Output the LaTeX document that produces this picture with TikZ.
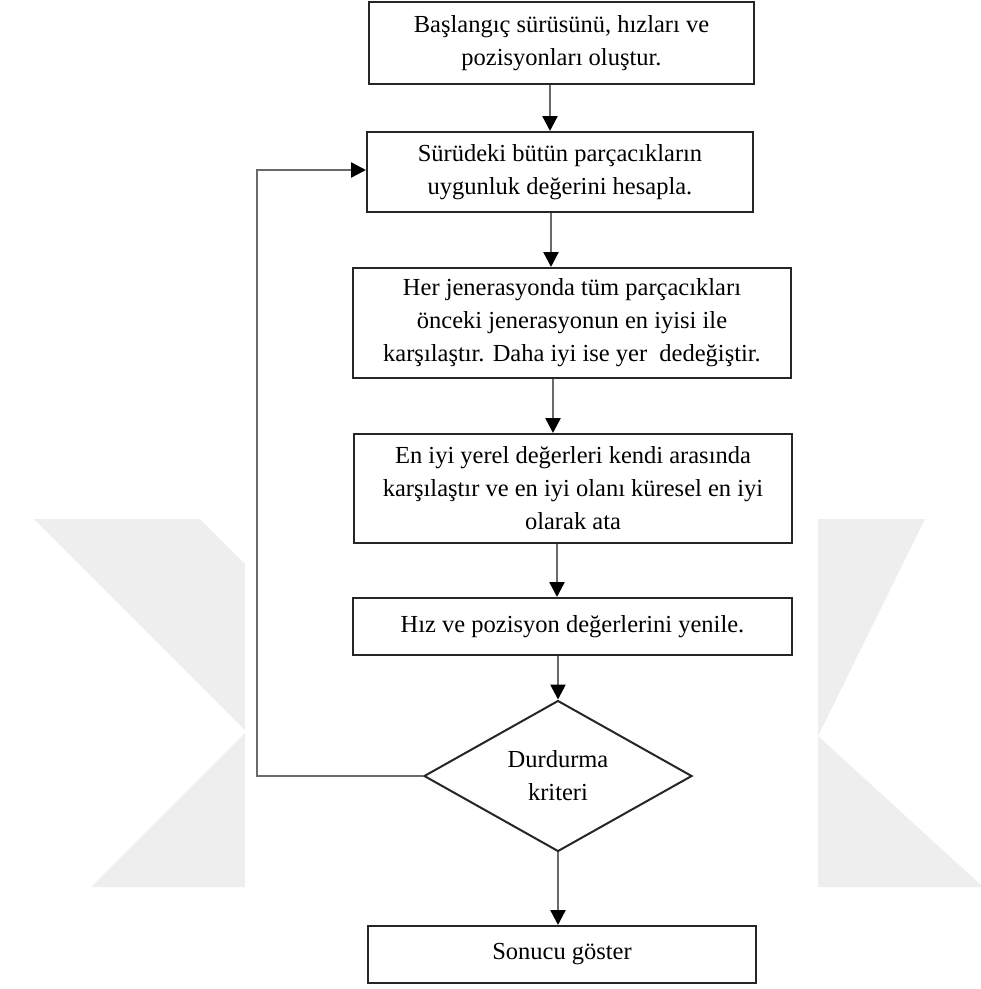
\documentclass[tikz,border=0pt]{standalone}
\usepackage{fontspec}
\setmainfont{Liberation Serif}
\usetikzlibrary{arrows.meta,shapes.geometric}
\definecolor{wm}{HTML}{EEEEEE}
\definecolor{conn}{HTML}{6A6A6A}
\tikzset{
  stepbox/.style={draw=black!85, line width=2pt, align=center, inner sep=0pt,
    font=\fontsize{24.5}{33}\selectfont},
  decision/.style={diamond, draw=black!85, line width=2pt, align=center, inner sep=0pt,
    font=\fontsize{24.5}{33}\selectfont},
  arr/.style={draw=conn, line width=2.4pt, -{Triangle[width=15pt,length=15pt,fill=black,color=black]}},
}
\begin{document}
\begin{tikzpicture}[x=1pt,y=-1pt]
\useasboundingbox (0,0) rectangle (981,989);
\fill[white] (0,0) rectangle (981,989);
% watermark
\fill[wm] (34,519) -- (246.5,731.5) -- (91,887) -- (257,887) -- (412.5,731.5) -- (200,519) -- cycle;
\fill[wm] (760,519) -- (925,519) -- (818,736) -- (983,887) -- (760,887) -- cycle;
\fill[white] (245,0) rectangle (818,989);
% nodes
\node[stepbox, minimum width=385, minimum height=82] (b1) at (561.5,43)
  {Başlangıç sürüsünü, hızları ve\\pozisyonları oluştur.};
\node[stepbox, minimum width=386, minimum height=80] (b2) at (560,172)
  {Sürüdeki bütün parçacıkların\\uygunluk değerini hesapla.};
\node[stepbox, minimum width=438, minimum height=110] (b3) at (572,323)
  {Her jenerasyonda tüm parçacıkları\\önceki jenerasyonun en iyisi ile\\karşılaştır. Daha iyi ise yer\ \ dedeğiştir.};
\node[stepbox, minimum width=438, minimum height=109] (b4) at (573,488.5)
  {En iyi yerel değerleri kendi arasında\\karşılaştır ve en iyi olanı küresel en iyi\\olarak ata};
\node[stepbox, minimum width=439, minimum height=57] (b5) at (572.5,626.5)
  {Hız ve pozisyon değerlerini yenile.};
\node[decision, minimum width=268, minimum height=137] (d) at (558,776)
  {Durdurma\\kriteri};
\node[stepbox, minimum width=388, minimum height=57] (b6) at (562,954.5)
  {Sonucu göster};
% connector columns
\coordinate (x1) at (550,0);
\coordinate (x2) at (551,0);
\coordinate (x3) at (553,0);
\coordinate (x4) at (557,0);
\coordinate (x6) at (559,0);
\coordinate (lb) at (257,776);
\coordinate (lt) at (257,170);
% connectors
\draw[arr] (b1.south -| x1) -- (b2.north -| x1);
\draw[arr] (b2.south -| x2) -- (b3.north -| x2);
\draw[arr] (b3.south -| x3) -- (b4.north -| x3);
\draw[arr] (b4.south -| x4) -- (b5.north -| x4);
\draw[arr] (b5.south -| d) -- (d.north);
\draw[arr] (d.south) -- (b6.north -| d);
\draw[arr] (d.west) -- (lb) -- (lt) -- (b2.west |- lt);
\end{tikzpicture}
\end{document}
